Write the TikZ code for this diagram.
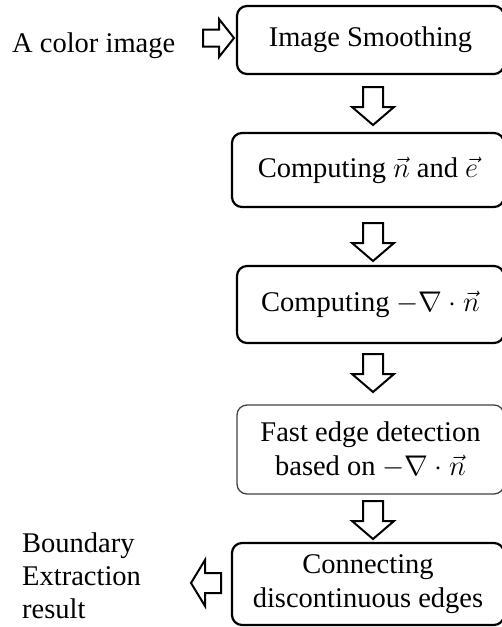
\RequirePackage{fix-cm}
\documentclass[tikz,border=0pt]{standalone}
\usepackage{fontspec}
\setmainfont{Liberation Serif}
\newcommand{\bigtxt}{\fontsize{28.5}{34}\selectfont}
\tikzset{
  stepbox/.style={draw, line width=2.2pt, rounded corners=10pt, inner sep=0pt, align=center, font=\bigtxt},
  thinbox/.style={stepbox, line width=1.3pt, draw=black!75},
  blk/.style={draw, line width=2pt, fill=white, line join=miter},
  lbl/.style={inner sep=0pt, align=left, font=\fontsize{28.5}{33}\selectfont},
  dnarrow/.pic={\draw[blk] (-10,0) -- (10,0) -- (10,20) -- (21,20) -- (0,38) -- (-21,20) -- (-10,20) -- cycle;}
}
\begin{document}
\begin{tikzpicture}[x=1pt,y=-1pt]
\useasboundingbox (0,0) rectangle (502,627);
% boxes
\node[stepbox, minimum width=267pt, minimum height=68pt] (b1) at (370.5,40) {Image Smoothing};
\node[stepbox, minimum width=272pt, minimum height=74pt] (b2) at (368,170) {Computing $\vec{n}$ and $\vec{e}$};
\node[stepbox, minimum width=267pt, minimum height=77pt] (b3) at (370.5,304.5) {Computing $-\nabla\cdot\vec{n}$};
\node[thinbox, minimum width=267pt, minimum height=89pt] (b4) at (370.5,449.5) {Fast edge detection\\based on $-\nabla\cdot\vec{n}$};
\node[stepbox, minimum width=272pt, minimum height=82pt] (b5) at (368,584) {Connecting\\discontinuous edges};
% labels
\node[lbl, anchor=base west] (in) at (12,52) {A color image};
\node[lbl, anchor=north west] (out) at (22,532.5) {Boundary\\Extraction\\result};
% block arrows
\coordinate (a12) at (373,87);
\coordinate (a23) at (373,223);
\coordinate (a34) at (373,354);
\coordinate (a45) at (373,501);
\pic at (a12) {dnarrow};
\pic at (a23) {dnarrow};
\pic at (a34) {dnarrow};
\pic at (a45) {dnarrow};
\draw[blk] (203,29.5) -- (219,29.5) -- (219,19) -- (234,38) -- (219,57) -- (219,46.5) -- (203,46.5) -- cycle;
\draw[blk] (221,573) -- (205,573) -- (205,560) -- (191,583) -- (205,606) -- (205,593) -- (221,593) -- cycle;
\end{tikzpicture}
\end{document}
